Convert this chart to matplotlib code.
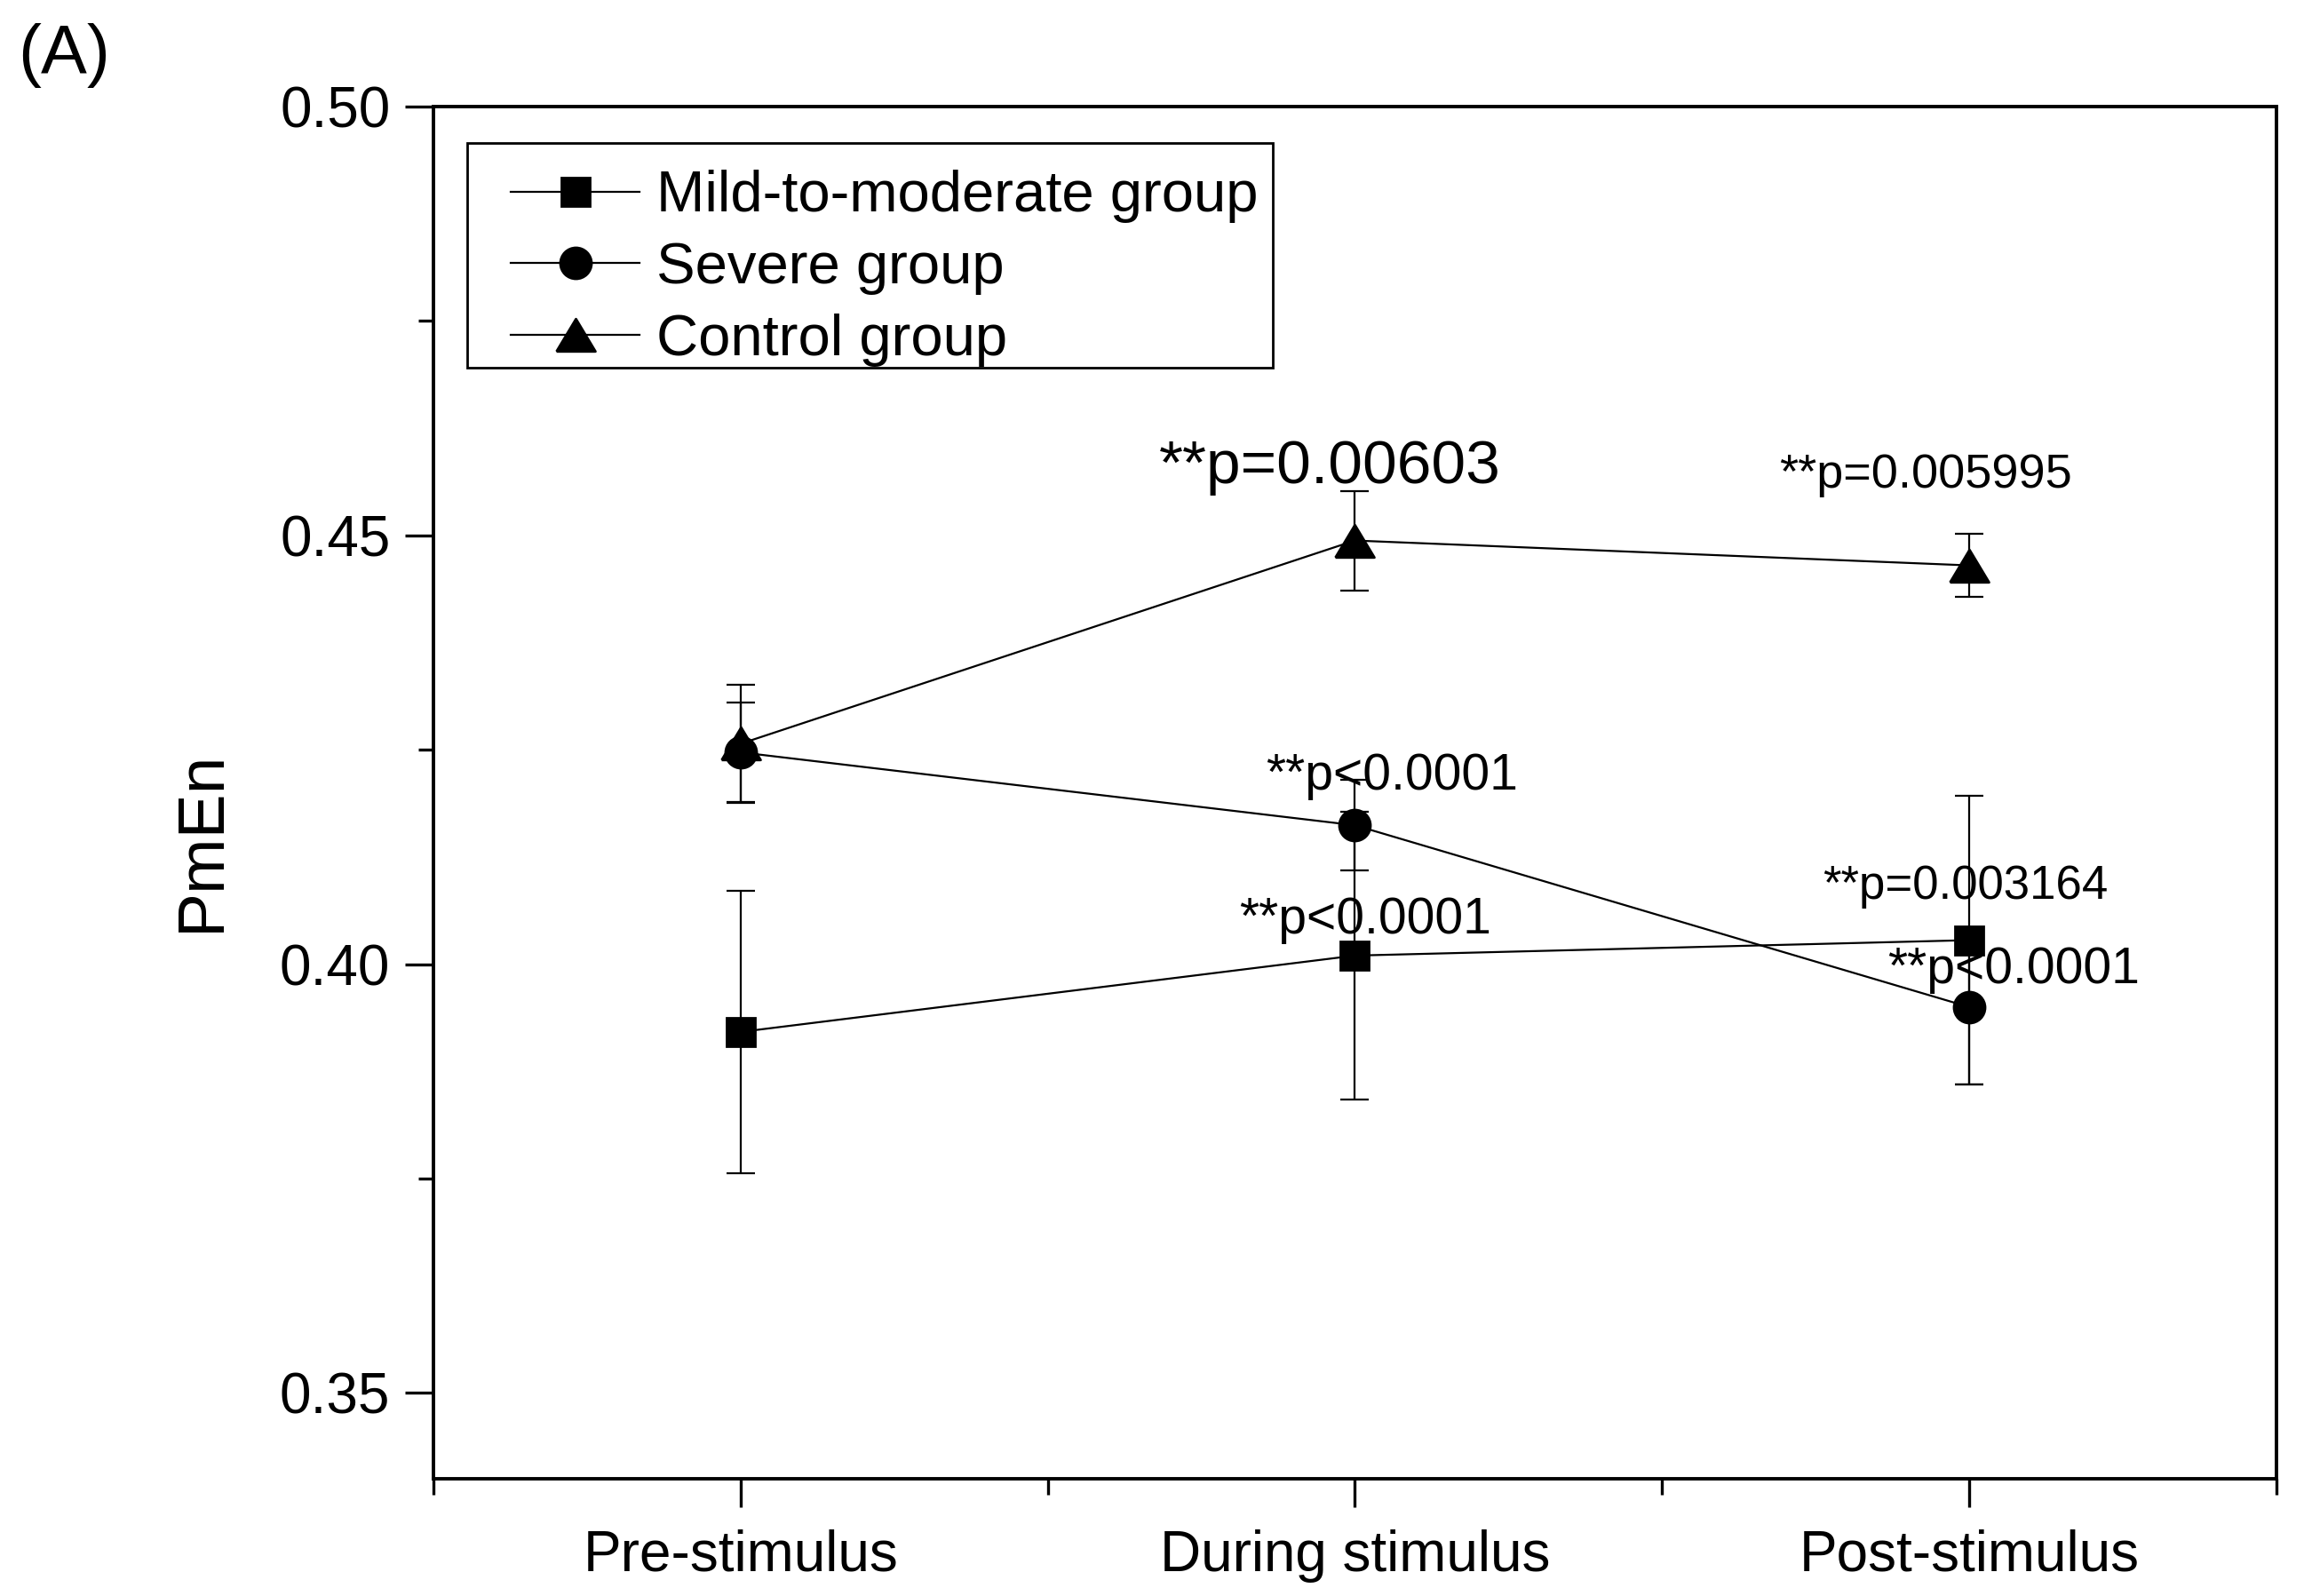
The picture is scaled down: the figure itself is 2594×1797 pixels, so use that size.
import matplotlib
matplotlib.use("Agg")
import matplotlib.pyplot as plt
from matplotlib.lines import Line2D
from matplotlib.patches import Rectangle
from matplotlib.legend_handler import HandlerLine2D
from matplotlib.ticker import FixedLocator, FormatStrFormatter

plt.rcParams['font.family'] = ['Liberation Sans', 'DejaVu Sans']

stages = ['Pre-stimulus', 'During stimulus', 'Post-stimulus']
x = [1, 2, 3]

mild = [0.3921, 0.4010, 0.4028]
mild_err = [0.0165, 0.0168, 0.0168]
severe = [0.4247, 0.4162, 0.3950]
severe_err = [0.0058, 0.0053, 0.0090]
control = [0.4257, 0.4494, 0.4465]
control_err = [0.0069, 0.0058, 0.0037]

# p-value notes: text, x, y, fontsize
notes = [
    ('**p=0.00603', 1.960, 0.4580, 25),
    ('**p=0.005995', 2.929, 0.4570, 19.5),
    ('**p<0.0001', 2.060, 0.4219, 20.5),
    ('**p<0.0001', 2.017, 0.4051, 20.5),
    ('**p=0.003164', 2.994, 0.4091, 19),
    ('**p<0.0001', 3.072, 0.3993, 20.5),
]

tri = [(-1.2, -1), (1.2, -1), (0, 1), (-1.2, -1)]

fig = plt.figure(figsize=(12.97, 8.985), dpi=200)
ax = fig.add_axes([0.1881, 0.0735, 0.7999, 0.8597])

lw = 0.8
for vals, errs in [(mild, mild_err), (severe, severe_err), (control, control_err)]:
    ax.errorbar(x, vals, yerr=errs, fmt='none', ecolor='black', elinewidth=lw,
                capsize=5.6, capthick=lw)

ax.plot(x, mild, color='black', lw=lw, marker='s', ms=11.5, label='Mild-to-moderate group')
ax.plot(x, severe, color='black', lw=lw, marker='o', ms=12.6, label='Severe group')
ax.plot(x, control, color='black', lw=lw, marker=tri, ms=15.8, label='Control group')

for txt, tx, ty, fs in notes:
    ax.text(tx, ty, txt, ha='center', va='center', fontsize=fs)

ax.set_xlim(0.5, 3.5)
ax.set_ylim(0.34, 0.50)
ax.set_xticks(x)
ax.set_xticklabels(stages)
ax.xaxis.set_minor_locator(FixedLocator([0.5, 1.5, 2.5, 3.5]))
ax.set_yticks([0.35, 0.40, 0.45, 0.50])
ax.yaxis.set_major_formatter(FormatStrFormatter('%.2f'))
ax.yaxis.set_minor_locator(FixedLocator([0.375, 0.425, 0.475]))
ax.tick_params(axis='both', which='major', direction='out', length=11.5, width=1.2,
               labelsize=23, pad=6)
ax.tick_params(axis='both', which='minor', direction='out', length=6.3, width=1.2)
ax.tick_params(axis='x', which='major', pad=9)
for side in ['left', 'right', 'top', 'bottom']:
    ax.spines[side].set_linewidth(1.4)

ax.set_ylabel('PmEn', fontsize=27, va='center')
ax.yaxis.set_label_coords(-0.1254, 0.465)

# legend without its own frame, box drawn separately so the rows sit lower
ax.legend(loc='upper left', bbox_to_anchor=(0.0183, 0.9644), borderaxespad=0,
          fontsize=23.5, frameon=False,
          handlelength=2.73, handletextpad=0.28, labelspacing=0.32,
          borderpad=0.25, handler_map={Line2D: HandlerLine2D(xpad=0.5)})
ax.add_patch(Rectangle((0.0183, 0.8099), 0.437, 0.1638, transform=ax.transAxes,
                       fill=False, edgecolor='black', lw=1.0, zorder=5))

fig.text(0.0077, 0.965, '(A)', fontsize=28, ha='left', va='center')

plt.savefig('out.png', dpi=200)
